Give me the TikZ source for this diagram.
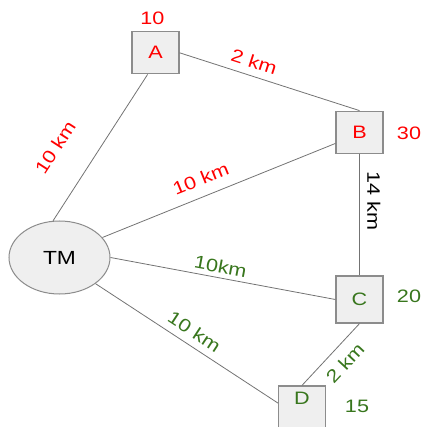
\documentclass[tikz,border=0pt]{standalone}
\usepackage{fontspec}
\setmainfont[FakeStretch=1.2]{Liberation Sans}
\usepackage{tikz}
\usetikzlibrary{shapes.geometric}
\definecolor{demandred}{RGB}{255,0,0}
\definecolor{demandgreen}{RGB}{56,118,29}
\definecolor{boxfill}{RGB}{239,239,239}
\definecolor{boxedge}{RGB}{140,140,140}
\definecolor{roadgray}{RGB}{115,115,115}

\begin{document}
\begin{tikzpicture}[x=1pt, y=-1pt,
    site/.style={draw=boxedge, fill=boxfill, line width=1.2pt, minimum width=47pt,
        minimum height=42pt, inner sep=0pt, font=\fontsize{18}{20}\selectfont},
    hub/.style={ellipse, draw=boxedge, fill=boxfill, line width=1pt, minimum width=101pt,
        minimum height=73pt, inner sep=0pt, font=\fontsize{19}{22}\selectfont},
    road/.style={draw=roadgray, line width=0.8pt},
    dist/.style={sloped, inner sep=2pt, font=\fontsize{18}{20}\selectfont},
    num/.style={inner sep=0pt, font=\fontsize{18}{20}\selectfont}]
    \useasboundingbox (0,0) rectangle (423,427);

    % Terminal
    \node[hub] (TM) at (59.5,257.5) {TM};

    % Customer sites
    \node[site, text=demandred] (A) at (155.5,52.8) {A};
    \node[site, text=demandred] (B) at (359.5,132.2) {B};
    \node[site, text=demandgreen, minimum height=47pt] (C) at (359.5,299.5) {C};
    \node[site, text=demandgreen, minimum height=47pt, text height=13pt, text depth=24pt] (D) at (302,409.5) {D};

    % Demands
    \node[num, text=demandred] (qA) at (152.3,18.3) {10};
    \node[num, text=demandred] (qB) at (409,133.7) {30};
    \node[num, text=demandgreen] (qC) at (409,296.7) {20};
    \node[num, text=demandgreen] (qD) at (357,406.7) {15};

    % Roads with distances
    \draw[road] (A.east) -- node[dist, pos=0.39, above=5.5pt, text=demandred] (dAB) {2 km} (B.north);
    \draw[road] (A.250) -- node[dist, pos=0.64, above=29pt, text=demandred] (dAT) {10 km} (TM.100);
    \draw[road] (TM.25) -- node[dist, pos=0.45, above=8.5pt, text=demandred] (dTB) {10 km} (B.205);
    \draw[road] (B.south) -- node[dist, pos=0.39, above=5.5pt] (dBC) {14 km} (C.north);
    \draw[road] (TM.east) -- node[dist, pos=0.48, above=2.5pt, text=demandgreen] (dTC) {10km} (C.west);
    \draw[road] (TM.324) -- node[dist, pos=0.5, above=5pt, text=demandgreen] (dTD) {10 km} (D.165);
    \draw[road] (C.south) -- node[dist, pos=0.46, below=7.4pt, text=demandgreen] (dCD) {2 km} (D.north);
\end{tikzpicture}
\end{document}
